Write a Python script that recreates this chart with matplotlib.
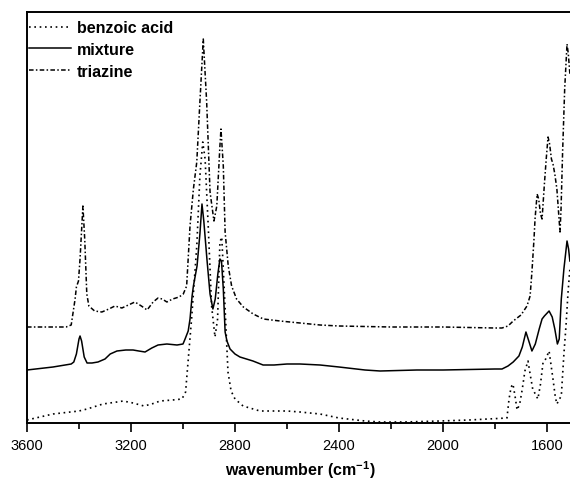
import matplotlib
matplotlib.use("Agg")
import matplotlib.pyplot as plt
from matplotlib.ticker import MultipleLocator

plt.rcParams['font.family'] = ['Liberation Sans', 'DejaVu Sans']
plt.rcParams['mathtext.fontset'] = 'custom'
plt.rcParams['mathtext.rm'] = 'Liberation Sans:bold'
plt.rcParams['mathtext.bf'] = 'Liberation Sans:bold'

# ---- data (arbitrary absorbance units) ----
tri_w = [3600, 3450, 3430, 3415, 3410, 3402, 3396, 3385, 3378, 3370, 3362, 3340, 3312, 3285,
         3262, 3235, 3210, 3185, 3160, 3138, 3115, 3096, 3080, 3062, 3040, 3015, 2999, 2986,
         2973, 2960, 2947, 2935, 2922, 2909, 2896, 2881, 2870, 2858, 2854, 2845, 2838, 2826,
         2813, 2794, 2768, 2730, 2691, 2627, 2473, 2400, 2200, 2000, 1800, 1773, 1750, 1730,
         1700, 1677, 1665, 1658, 1650, 1646, 1638, 1632, 1625, 1619, 1610, 1603, 1596, 1590,
         1583, 1577, 1570, 1562, 1555, 1550, 1546, 1540, 1532, 1523, 1518, 1512]
tri_y = [328, 328, 326, 300, 288, 282, 260, 207, 240, 295, 307, 312, 313, 310,
         307, 309, 306, 303, 307, 311, 303, 299, 300, 303, 300, 298, 295, 287,
         227, 190, 163, 103, 40, 103, 193, 222, 207, 147, 130, 167, 233, 267,
         287, 300, 308, 315, 320, 322, 326, 327, 328, 328, 329, 329, 327, 322,
         316, 307, 297, 273, 240, 220, 195, 200, 215, 220, 185, 160, 138, 145,
         160, 165, 175, 190, 215, 233, 210, 153, 90, 45, 55, 75]

mix_w = [3600, 3500, 3430, 3420, 3410, 3400, 3396, 3390, 3380, 3369, 3350, 3327, 3300, 3280,
         3254, 3220, 3192, 3170, 3146, 3120, 3096, 3062, 3023, 3000, 2992, 2980, 2973, 2965,
         2960, 2946, 2935, 2927, 2920, 2908, 2896, 2885, 2876, 2866, 2858, 2852, 2845, 2838,
         2831, 2819, 2800, 2781, 2731, 2692, 2650, 2600, 2550, 2473, 2400, 2300, 2242, 2100,
         2000, 1800, 1773, 1750, 1730, 1708, 1695, 1681, 1670, 1658, 1645, 1630, 1619, 1610,
         1592, 1580, 1570, 1560, 1553, 1545, 1535, 1523, 1517, 1512]
mix_y = [371, 368, 365, 363, 355, 340, 337, 342, 358, 364, 364, 363, 360, 355,
         352, 351, 351, 352, 353, 349, 346, 345, 346, 345, 340, 332, 320, 297,
         287, 267, 235, 205, 222, 260, 295, 310, 300, 275, 260, 262, 290, 333,
         342, 350, 355, 358, 362, 366, 366, 365, 365, 366, 368, 371, 372, 371,
         371, 370, 370, 367, 363, 357, 348, 333, 342, 352, 345, 330, 320, 317,
         312, 318, 330, 345, 340, 300, 270, 242, 250, 262]

ben_w = [3600, 3500, 3400, 3369, 3308, 3254, 3230, 3192, 3150, 3120, 3088, 3040, 3004, 2990,
         2986, 2967, 2947, 2935, 2924, 2915, 2903, 2890, 2877, 2867, 2858, 2851, 2845, 2838,
         2827, 2815, 2800, 2769, 2704, 2650, 2600, 2550, 2473, 2400, 2300, 2242, 2150, 2012,
         1900, 1754, 1746, 1738, 1731, 1723, 1715, 1705, 1695, 1685, 1673, 1665, 1655, 1635,
         1625, 1615, 1605, 1592, 1585, 1577, 1568, 1562, 1552, 1545, 1535, 1527, 1519, 1512]
ben_y = [421, 415, 412, 410, 405, 403, 402, 404, 407, 405, 402, 401, 400, 393,
         380, 320, 247, 177, 143, 160, 227, 307, 338, 320, 243, 238, 270, 310,
         373, 392, 400, 407, 412, 412, 412, 413, 415, 419, 422, 423, 423, 422,
         421, 419, 400, 388, 385, 397, 411, 405, 390, 372, 362, 375, 390, 400,
         385, 363, 360, 352, 365, 380, 398, 405, 400, 397, 355, 327, 293, 270]

labels = ['benzoic acid', 'mixture', 'triazine']
xticks = [3600, 3200, 2800, 2400, 2000, 1600]

# ---- figure ----
fig = plt.figure(figsize=(5.7, 4.85), dpi=100)
ax = fig.add_axes([27/570, 1 - 424/485, 546/570, 411/485])

lw = 1.1
l1, = ax.plot(ben_w, [424 - v for v in ben_y], color='black', lw=1.2, linestyle=(0, (1, 2.2)))
l2, = ax.plot(mix_w, [424 - v for v in mix_y], color='black', lw=lw, linestyle='-')
l3, = ax.plot(tri_w, [424 - v for v in tri_y], color='black', lw=lw, linestyle=(0, (3, 1.5, 1, 1.5)))

ax.set_xlim(3600, 1500)
ax.set_ylim(0, 411)
ax.set_xticks(xticks)
ax.xaxis.set_minor_locator(MultipleLocator(200))
ax.set_yticks([])
ax.tick_params(axis='x', which='major', direction='out', length=6.5, width=1.2,
               labelsize=10.5, pad=4)
ax.tick_params(axis='x', which='minor', direction='out', length=4.2, width=1.2)
for s in ax.spines.values():
    s.set_linewidth(1.4)

ax.set_xlabel(r'wavenumber (cm$^{\mathbf{-1}}$)', fontsize=11.5, fontweight='bold', labelpad=5)

leg = ax.legend([l1, l2, l3], labels, loc='upper left', bbox_to_anchor=(0.004, 0.98),
                frameon=False, borderpad=0, borderaxespad=0, handlelength=2.6,
                handletextpad=0.4, labelspacing=0.42,
                prop={'family': 'Liberation Sans', 'weight': 'bold', 'size': 11.5})

fig.savefig('out.png', dpi=100)
